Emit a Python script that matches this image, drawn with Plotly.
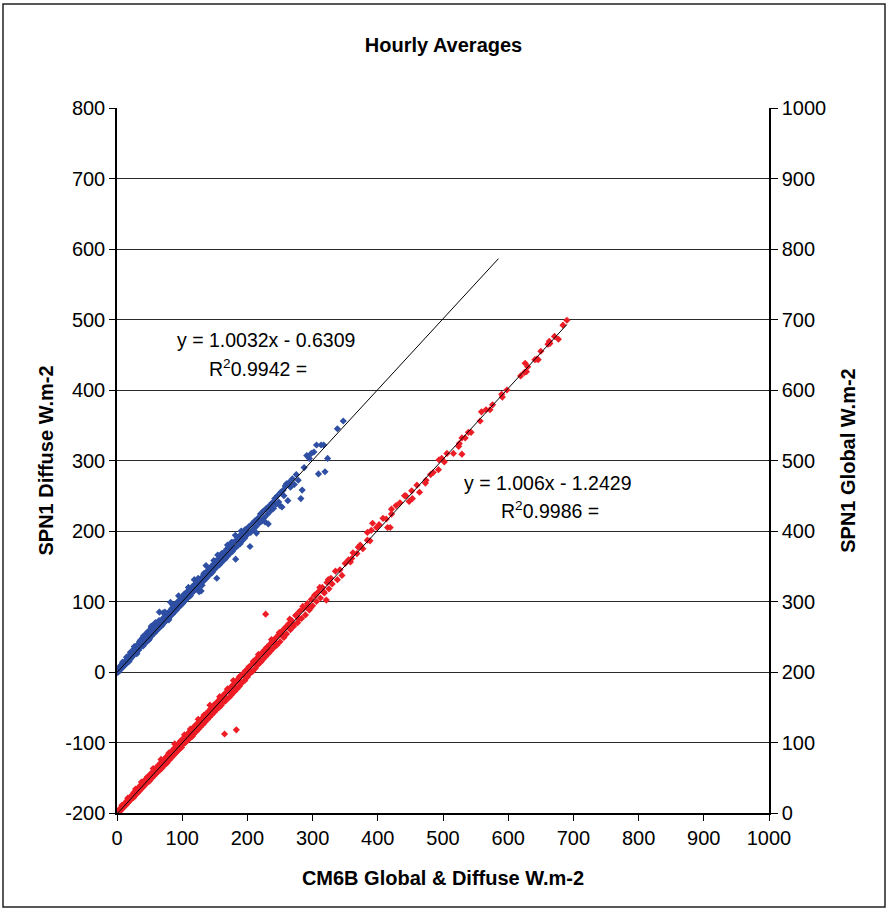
import plotly.graph_objects as go

# ---------------- data ----------------
# Diffuse: CM6B (x) vs SPN1 (left axis)
blue_x = [0, 1, 2, 3, 4, 5, 6, 7, 8, 9, 10, 11, 12, 13, 14, 15, 16, 17, 18, 19, 20,
          21, 22, 23, 24, 25, 26, 27, 28, 29, 30, 31, 32, 33, 34, 35, 36, 37, 38, 39, 40,
          41, 42, 43, 44, 45, 46, 47, 48, 49, 50, 51, 52, 53, 54, 55, 56, 57, 58, 59, 60,
          0.5, 2.5, 4.5, 6.5, 8.5, 10.5, 12.5, 14.5, 16.5, 18.5, 20.5, 22.5, 24.5, 26.5, 28.5,
          30.5, 32.5, 34.5, 36.5, 38.5, 40.5, 42.5, 44.5, 46.5, 48.5, 50.5, 52.5, 54.5, 56.5, 58.5,
          61, 62, 63, 64, 65, 66, 67, 68, 69, 70,
          71, 72, 73, 74, 75, 76, 77, 78, 79, 80,
          81, 82, 83, 84, 85, 86, 87, 88, 89, 90,
          91, 92, 93, 94, 95, 96, 97, 98, 99, 100,
          101, 102, 103, 104, 105, 106, 107, 108, 109, 110,
          112, 113, 115, 116, 118, 119, 120, 122, 123, 125,
          126, 127, 129, 130, 131, 133, 134, 136, 137, 139,
          140, 142, 143, 145, 146, 148, 150, 151, 153, 154,
          156, 157, 159, 160, 162, 164, 165, 167, 168, 170,
          172, 173, 175, 177, 178, 180, 182, 183, 185, 187,
          189, 190, 192, 194, 196, 198, 200, 202, 204, 205,
          61.5, 64.5, 67.5, 70.5, 73.5, 76.5, 79.5, 82.5, 85.5, 88.5,
          91.5, 94.5, 97.5, 100.5, 103.5, 106.5, 109.5, 112.5, 115.5, 118.5,
          121.5, 124.5, 127.5, 130.5, 133.5, 136.5, 139.5, 142.5, 145.5, 148.5,
          151.5, 154.5, 157.5, 160.5, 163.5, 166.5, 169.5, 172.5, 175.5, 178.5,
          181.5, 184.5, 187.5, 190.5, 193.5, 196.5,
          207, 209, 211, 213, 214, 216, 218, 220, 222, 224, 226, 227, 229, 231, 232,
          234, 236, 238, 240, 242, 244, 246, 248, 250, 251, 253, 255, 256, 258, 260,
          262, 264, 266, 269, 272, 275, 278, 282, 284, 287, 291,
          295, 298, 302, 306, 309, 313, 317, 319, 323, 338, 347]
blue_y = [-1, 3, 0, 5, 2, 4, 9, 5, 7, 12, 8, 10, 15, 11, 16, 13, 21, 15, 19, 24, 18,
          22, 27, 21, 28, 24, 33, 26, 31, 36, 27, 34, 39, 31, 40, 35, 45, 36, 42, 48, 37,
          45, 50, 41, 52, 46, 56, 45, 53, 58, 47, 57, 62, 51, 63, 56, 67, 55, 64, 70, 58,
          2, 2, 8, 5, 14, 11, 10, 21, 19, 15, 28, 24, 23, 36, 32,
          26, 37, 43, 36, 41, 51, 40, 50, 48, 45, 58, 65, 55, 55, 65,
          65, 60, 68, 62, 85, 64, 71, 66, 74, 67,
          84, 70, 78, 72, 80, 73, 82, 76, 84, 77,
          86, 99, 81, 90, 82, 91, 85, 94, 86, 96,
          88, 98, 91, 100, 92, 101, 95, 104, 96, 106,
          98, 108, 100, 110, 102, 111, 104, 114, 106, 116,
          109, 118, 112, 121, 115, 124, 117, 127, 119, 130,
          114, 123, 115, 134, 128, 138, 130, 141, 133, 143,
          136, 147, 139, 150, 141, 153, 146, 156, 133, 150,
          161, 152, 164, 155, 168, 159, 170, 162, 174, 165,
          178, 168, 181, 171, 184, 175, 160, 187, 179, 190,
          182, 195, 186, 198, 190, 201, 195, 206, 178, 198,
          64, 73, 65, 76, 85, 77, 74, 87, 95, 87,
          98, 108, 99, 97, 111, 110, 120, 108, 121, 131,
          121, 133, 130, 123, 140, 151, 140, 147, 143, 158,
          157, 166, 156, 168, 165, 161, 180, 176, 184, 175,
          194, 191, 188, 200, 191, 202,
          210, 202, 214, 206, 197, 218, 211, 224, 214, 228, 219, 213, 232, 224, 210,
          236, 229, 240, 232, 246, 238, 250, 241, 236, 255, 234, 258, 250, 264, 267,
          243, 269, 262, 274, 266, 280, 272, 246, 258, 290, 307,
          303, 310, 312, 322, 281, 322, 322, 284, 303, 345, 356]

# Global: CM6B (x) vs SPN1 (right axis)
red_x = [0, 1, 2, 3, 4, 5, 6, 7, 8, 9, 10, 11, 12, 13, 14, 15, 16, 17, 18, 19, 20, 21, 22,
         24, 25, 26, 27, 28, 29, 30, 31, 32, 33, 34, 35, 37, 38, 39, 40, 42, 43, 44,
         46, 47, 48, 50, 51, 52, 54, 55, 57, 58, 60, 61, 63, 64, 66, 67, 69, 70,
         72, 73, 75, 76, 78, 79, 81, 82, 84, 85, 87, 88, 90, 91, 93, 94, 96, 97, 99, 100,
         102, 103, 105, 107, 108, 110, 112, 113, 115, 117,
         118, 120, 122, 123, 125, 127, 128, 130, 132, 134,
         135, 137, 139, 141, 142, 144, 146, 148, 149, 151,
         153, 155, 157, 159, 160, 162, 164, 165, 166, 168,
         170, 172, 174, 176, 178, 180, 182, 183, 184, 186,
         188, 190, 192, 194, 196, 198, 200,
         1.5, 4.5, 7.5, 10.5, 13.5, 16.5, 19.5, 22.5, 25.5, 28.5,
         31.5, 34.5, 37.5, 40.5, 43.5, 46.5, 49.5, 52.5, 55.5, 58.5,
         61.5, 64.5, 67.5, 70.5, 73.5, 76.5, 79.5, 82.5, 85.5, 88.5,
         91.5, 94.5, 97.5, 100.5, 103.5, 106.5, 109.5, 112.5, 115.5, 118.5,
         121.5, 124.5, 127.5, 130.5, 133.5, 136.5, 139.5, 142.5, 145.5, 148.5,
         151.5, 154.5, 157.5, 160.5, 163.5, 166.5, 169.5, 172.5, 175.5, 178.5,
         181.5, 184.5, 187.5, 190.5, 193.5, 196.5,
         202, 204, 206, 208, 210, 212, 214, 216, 218, 220,
         222, 224, 226, 228, 228, 230, 232, 234, 236, 238,
         240, 243, 245, 248, 250, 253, 255, 258, 260, 263,
         266, 268, 271, 274, 277, 280, 283, 286, 289, 292,
         295, 298, 300, 303, 306, 309, 312, 315, 318, 321,
         322, 325, 328, 330,
         201, 205, 209, 213, 217, 221, 225, 229, 233, 237,
         241, 245, 249, 252, 256, 261, 265, 270, 275, 279,
         285, 291, 297, 304, 311, 317, 324,
         335, 338, 342, 345, 350, 355, 358, 360, 362, 368,
         370, 373, 377, 384, 384, 388, 390, 392, 398, 402,
         408, 413, 415, 419, 421, 421, 428, 434, 441, 443,
         448, 452, 453, 460, 464, 473, 474, 481, 485, 493,
         494, 498, 502, 506, 516, 524, 525, 529, 529, 534,
         539, 543, 557, 559, 566, 572, 576, 590, 591, 598,
         619, 625, 626, 628, 630, 641, 644, 646, 650, 661,
         663, 664, 671, 677, 684, 690]
red_y = [0, 2, 1, 4, 2, 6, 4, 8, 6, 10, 8, 13, 10, 14, 12, 17, 14, 19, 16, 21, 18, 23, 20,
         26, 22, 29, 24, 31, 27, 33, 28, 35, 30, 37, 32, 40, 35, 43, 37, 45, 40, 48,
         43, 51, 45, 53, 47, 56, 50, 58, 53, 62, 56, 65, 59, 68, 61, 71, 64, 74,
         67, 77, 70, 80, 73, 83, 76, 86, 79, 89, 82, 92, 85, 95, 88, 98, 91, 101, 93, 104,
         98, 107, 100, 111, 103, 114, 106, 117, 109, 121,
         112, 124, 116, 127, 119, 131, 122, 134, 126, 138,
         129, 141, 133, 145, 136, 148, 140, 152, 143, 155,
         147, 159, 150, 163, 153, 166, 158, 112, 170, 162,
         175, 164, 178, 168, 182, 172, 186, 118, 176, 190,
         180, 195, 185, 198, 188, 202, 193,
         3, 3, 11, 11, 11, 21, 19, 25, 22, 34,
         33, 33, 44, 38, 44, 51, 45, 55, 63, 58,
         58, 68, 76, 69, 75, 71, 85, 83, 83, 98,
         94, 90, 102, 100, 111, 103, 111, 119, 109, 122,
         122, 133, 126, 126, 139, 139, 137, 153, 145, 153,
         146, 156, 165, 158, 167, 159, 176, 173, 174, 188,
         178, 187, 193, 185, 195, 201,
         207, 198, 210, 201, 215, 205, 219, 210, 223, 214,
         227, 218, 231, 282, 222, 235, 226, 239, 230, 244,
         234, 248, 238, 253, 243, 258, 250, 263, 254, 268,
         260, 273, 265, 280, 270, 286, 276, 290, 281, 297,
         288, 303, 294, 309, 300, 314, 305, 320, 312, 302,
         327, 318, 333, 325,
         204, 201, 215, 211, 225, 215, 227, 234, 230, 246,
         241, 240, 256, 255, 249, 265, 275, 268, 281, 275,
         293, 292, 291, 309, 320, 314, 331,
         343, 331, 345, 337, 354, 359, 356, 361, 369, 368,
         377, 380, 375, 387, 398, 386, 401, 411, 405, 409,
         418, 417, 405, 405, 424, 431, 436, 440, 450, 450,
         442, 457, 446, 465, 455, 468, 472, 480, 483, 487,
         501, 503, 498, 510, 510, 520, 524, 509, 532, 532,
         540, 540, 556, 569, 572, 572, 579, 594, 590, 600,
         620, 625, 638, 626, 633, 643, 644, 643, 655, 665,
         669, 666, 676, 672, 692, 699]

# Trend lines (Excel linear fits as printed on the chart)
blue_slope, blue_intercept, blue_r2 = 1.0032, -0.6309, 0.9942
red_slope, red_intercept, red_r2 = 1.006, -1.2429, 0.9986
blue_trend_x = [0, 585]
red_trend_x = [0, 690]

x_ticks = list(range(0, 1001, 100))
left_ticks = list(range(-200, 801, 100))
right_ticks = list(range(0, 1001, 100))

chart_title = "Hourly Averages"
x_title = "CM6B Global &amp; Diffuse W.m-2"
left_title = "SPN1 Diffuse W.m-2"
right_title = "SPN1 Global W.m-2"

FONT = "Liberation Sans, Arial, sans-serif"
BLUE = "#2E4FA3"
RED = "#EE1D25"

fig = go.Figure()

fig.add_trace(go.Scatter(
    x=blue_x, y=blue_y, mode="markers", yaxis="y",
    marker=dict(symbol="diamond", size=5.5, color=BLUE, line=dict(width=0)),
    name="Diffuse", showlegend=False))
fig.add_trace(go.Scatter(
    x=blue_trend_x, y=[blue_slope * v + blue_intercept for v in blue_trend_x],
    mode="lines", yaxis="y", line=dict(color="black", width=1),
    showlegend=False))
fig.add_trace(go.Scatter(
    x=red_x, y=red_y, mode="markers", yaxis="y2",
    marker=dict(symbol="diamond", size=5.5, color=RED, line=dict(width=0)),
    name="Global", showlegend=False))
fig.add_trace(go.Scatter(
    x=red_trend_x, y=[red_slope * v + red_intercept for v in red_trend_x],
    mode="lines", yaxis="y2", line=dict(color="black", width=1),
    showlegend=False))

tickfont = dict(family=FONT, size=20, color="black")
title_font = dict(family=FONT, size=20, color="black")

fig.update_layout(
    width=887, height=909,
    margin=dict(l=117, r=118, t=108, b=96, autoexpand=False),
    paper_bgcolor="white", plot_bgcolor="white",
    font=dict(family=FONT, color="black"),
    title=dict(text=f"<b>{chart_title}</b>", x=0.5, xanchor="center",
               y=1 - 45 / 909, yanchor="middle", font=title_font),
    xaxis=dict(range=[0, 1000], tickvals=x_ticks, ticktext=[str(v) for v in x_ticks],
               ticks="outside", ticklen=6,
               tickcolor="black", showline=True, linecolor="black", linewidth=1.5,
               showgrid=False, zeroline=False, tickfont=tickfont,
               title=dict(text=f"<b>{x_title}</b>", font=title_font, standoff=23)),
    yaxis=dict(range=[-200, 800], tickvals=left_ticks, ticktext=[str(v) for v in left_ticks],
               ticks="outside", ticklen=6,
               tickcolor="black", showline=True, linecolor="black", linewidth=1.5,
               showgrid=True, gridcolor="#2a2a2a", gridwidth=1, zeroline=False,
               tickfont=tickfont,
               title=dict(text=f"<b>{left_title}</b>", font=title_font, standoff=6)),
    yaxis2=dict(range=[0, 1000], tickvals=right_ticks, ticktext=[str(v) for v in right_ticks],
                overlaying="y", side="right",
                ticks="outside", ticklen=7, tickcolor="black", showline=True,
                linecolor="black", linewidth=1.5, showgrid=False, zeroline=False,
                tickfont=tickfont,
                title=dict(text=f"<b>{right_title}</b>", font=title_font, standoff=16)),
    showlegend=False,
)

eq_font = dict(family=FONT, size=19.5, color="black")
annotations = [
    dict(text=f"y = {blue_slope}x - {abs(blue_intercept)}", x=228, y=471, xref="x", yref="y",
         showarrow=False, font=eq_font, xanchor="center", yanchor="middle"),
    dict(text=f"R<sup>2</sup>{blue_r2} =", x=216, y=431, xref="x", yref="y",
         showarrow=False, font=eq_font, xanchor="center", yanchor="middle"),
    dict(text=f"y = {red_slope}x - {abs(red_intercept)}", x=661, y=268, xref="x", yref="y",
         showarrow=False, font=eq_font, xanchor="center", yanchor="middle"),
    dict(text=f"R<sup>2</sup>{red_r2} =", x=664, y=230, xref="x", yref="y",
         showarrow=False, font=eq_font, xanchor="center", yanchor="middle"),
]
fig.update_layout(annotations=annotations)

# outer chart border
fig.add_shape(type="rect", xref="paper", yref="paper",
              x0=(3 - 117) / 652, x1=(885 - 117) / 652,
              y0=(813 - 907) / 705, y1=(813 - 4) / 705,
              line=dict(color="#222222", width=1.5), fillcolor="rgba(0,0,0,0)",
              layer="below")

fig.write_html("out.html")
